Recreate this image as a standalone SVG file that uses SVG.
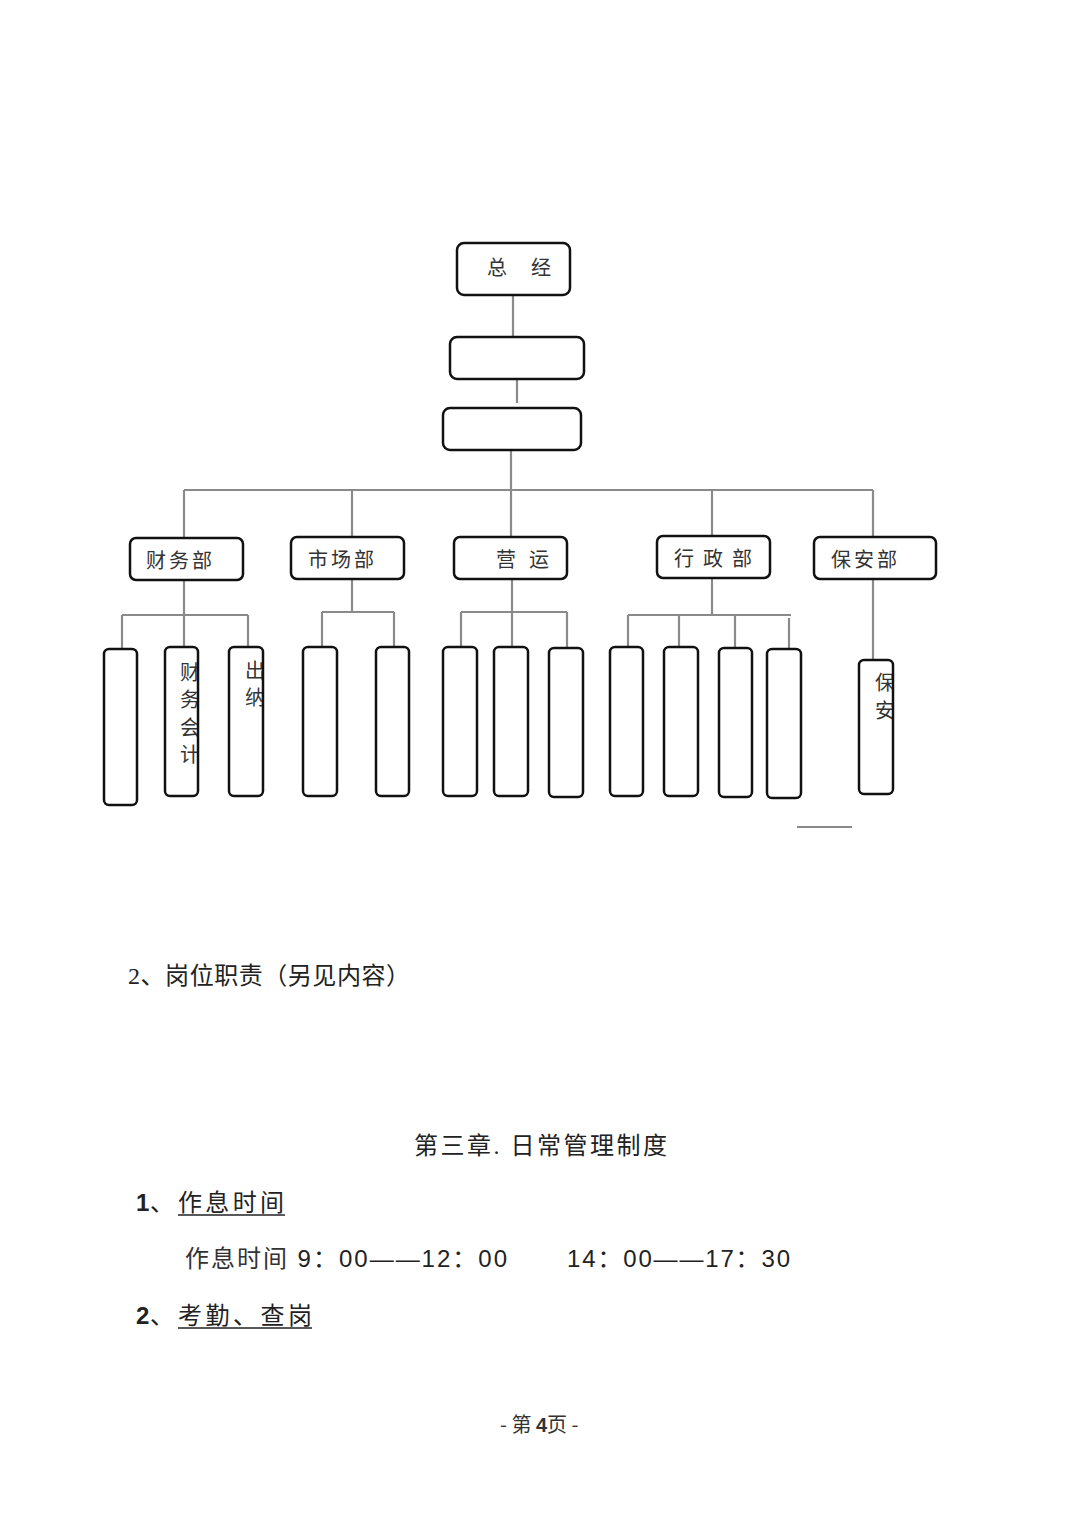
<svg xmlns="http://www.w3.org/2000/svg" width="1080" height="1528" viewBox="0 0 1080 1528">
<style>
.box{fill:#fff;stroke:#111;stroke-width:2.5}
.ln{stroke:#8a8a8a;stroke-width:2.2;fill:none}
.lbl{font-family:"Noto Sans CJK SC","Liberation Sans",sans-serif;font-size:20px;fill:#333}
.body{font-family:"Liberation Serif","Noto Sans CJK SC",serif;font-size:24px;fill:#222}
.num{font-family:"Liberation Sans","Noto Sans CJK SC",sans-serif;font-size:24px;fill:#222}
.ul{stroke:#222;stroke-width:1.5}
</style>
<defs>
<clipPath id="c1"><rect x="165" y="647" width="32" height="149"/></clipPath>
<clipPath id="c2"><rect x="229" y="647" width="33" height="149"/></clipPath>
<clipPath id="c3"><rect x="859" y="660" width="33" height="134"/></clipPath>
</defs>
<rect width="1080" height="1528" fill="#fff"/>

<g id="connectors">
<line class="ln" x1="513" y1="295" x2="513" y2="349"/>
<line class="ln" x1="517" y1="379" x2="517" y2="403"/>
<line class="ln" x1="511" y1="450" x2="511" y2="537"/>
<line class="ln" x1="184" y1="490" x2="873" y2="490"/>
<line class="ln" x1="184" y1="490" x2="184" y2="538"/>
<line class="ln" x1="352" y1="490" x2="352" y2="539"/>
<line class="ln" x1="712" y1="490" x2="712" y2="536"/>
<line class="ln" x1="873" y1="490" x2="873" y2="537"/>
<!-- 财务部 -->
<line class="ln" x1="184" y1="580" x2="184" y2="647"/>
<line class="ln" x1="122" y1="615" x2="248" y2="615"/>
<line class="ln" x1="122" y1="615" x2="122" y2="649"/>
<line class="ln" x1="248" y1="615" x2="248" y2="647"/>
<!-- 市场部 -->
<line class="ln" x1="352" y1="579" x2="352" y2="612"/>
<line class="ln" x1="322" y1="612" x2="394" y2="612"/>
<line class="ln" x1="322" y1="612" x2="322" y2="647"/>
<line class="ln" x1="394" y1="612" x2="394" y2="647"/>
<!-- 营运 -->
<line class="ln" x1="512" y1="579" x2="512" y2="647"/>
<line class="ln" x1="461" y1="612" x2="567" y2="612"/>
<line class="ln" x1="461" y1="612" x2="461" y2="647"/>
<line class="ln" x1="567" y1="612" x2="567" y2="648"/>
<!-- 行政部 -->
<line class="ln" x1="712" y1="578" x2="712" y2="615"/>
<line class="ln" x1="628" y1="615" x2="791" y2="615"/>
<line class="ln" x1="628" y1="615" x2="628" y2="647"/>
<line class="ln" x1="679" y1="615" x2="679" y2="647"/>
<line class="ln" x1="735" y1="615" x2="735" y2="648"/>
<line class="ln" x1="789" y1="618" x2="789" y2="652"/>
<!-- 保安部 -->
<line class="ln" x1="873" y1="577" x2="873" y2="660"/>
<line class="ln" x1="797" y1="827" x2="852" y2="827"/>
</g>

<g id="n-gm">
<rect class="box" x="457" y="243" width="113" height="52" rx="7"/>
<text class="lbl" x="487" y="275">总</text>
<text class="lbl" x="531" y="275">经</text>
</g>
<g id="n-2"><rect class="box" x="450" y="337" width="134" height="42" rx="7"/></g>
<g id="n-3"><rect class="box" x="443" y="408" width="138" height="42" rx="7"/></g>

<g id="n-finance">
<rect class="box" x="130" y="538" width="113" height="42" rx="6"/>
<text class="lbl" x="146" y="568" letter-spacing="3">财务部</text>
</g>
<g id="n-market">
<rect class="box" x="291" y="537" width="113" height="42" rx="6"/>
<text class="lbl" x="308" y="567" letter-spacing="3">市场部</text>
</g>
<g id="n-ops">
<rect class="box" x="454" y="537" width="113" height="42" rx="6"/>
<text class="lbl" x="496" y="567">营</text>
<text class="lbl" x="529" y="567">运</text>
</g>
<g id="n-admin">
<rect class="box" x="657" y="536" width="113" height="42" rx="6"/>
<text class="lbl" x="674" y="566">行</text>
<text class="lbl" x="703" y="566">政</text>
<text class="lbl" x="732" y="566">部</text>
</g>
<g id="n-security">
<rect class="box" x="814" y="537" width="122" height="42" rx="6"/>
<text class="lbl" x="831" y="567" letter-spacing="3">保安部</text>
</g>

<g id="n-f1"><rect class="box" x="104" y="649" width="33" height="156" rx="5"/></g>
<g id="n-f2">
<rect class="box" x="165" y="647" width="33" height="149" rx="5"/>
<g clip-path="url(#c1)">
<text class="lbl" x="180" y="680">财</text>
<text class="lbl" x="180" y="707">务</text>
<text class="lbl" x="180" y="735">会</text>
<text class="lbl" x="180" y="762">计</text>
</g>
</g>
<g id="n-f3">
<rect class="box" x="229" y="647" width="34" height="149" rx="5"/>
<g clip-path="url(#c2)">
<text class="lbl" x="245" y="678">出</text>
<text class="lbl" x="245" y="705">纳</text>
</g>
</g>
<g id="n-m1"><rect class="box" x="303" y="647" width="34" height="149" rx="5"/></g>
<g id="n-m2"><rect class="box" x="376" y="647" width="33" height="149" rx="5"/></g>
<g id="n-o1"><rect class="box" x="443" y="647" width="34" height="149" rx="5"/></g>
<g id="n-o2"><rect class="box" x="494" y="647" width="34" height="149" rx="5"/></g>
<g id="n-o3"><rect class="box" x="549" y="648" width="34" height="149" rx="5"/></g>
<g id="n-a1"><rect class="box" x="610" y="647" width="33" height="149" rx="5"/></g>
<g id="n-a2"><rect class="box" x="664" y="647" width="34" height="149" rx="5"/></g>
<g id="n-a3"><rect class="box" x="719" y="648" width="33" height="149" rx="5"/></g>
<g id="n-a4"><rect class="box" x="767" y="649" width="34" height="149" rx="5"/></g>
<g id="n-s1">
<rect class="box" x="859" y="660" width="34" height="134" rx="5"/>
<g clip-path="url(#c3)">
<text class="lbl" x="875" y="690">保</text>
<text class="lbl" x="875" y="718">安</text>
</g>
</g>

<g id="text">
<text class="body" x="128" y="984" font-size="25" textLength="282" lengthAdjust="spacing">2、岗位职责（另见内容）</text>
<text class="body" x="414" y="1154" textLength="253" lengthAdjust="spacing">第三章. 日常管理制度</text>
<text class="num" x="136" y="1211" font-weight="bold">1</text>
<text class="body" x="150" y="1211">、</text>
<text class="body" x="178" y="1211" textLength="106" lengthAdjust="spacing">作息时间</text>
<line class="ul" x1="178" y1="1215" x2="285" y2="1215"/>
<text class="num" x="185" y="1267" textLength="322" lengthAdjust="spacing"><tspan font-family="Noto Sans CJK SC, sans-serif" fill="#333">作息时间</tspan> 9：00——12：00</text>
<text class="num" x="567" y="1267" textLength="223" lengthAdjust="spacing">14：00——17：30</text>
<text class="num" x="136" y="1324" font-weight="bold">2</text>
<text class="body" x="150" y="1324">、</text>
<text class="body" x="178" y="1324" textLength="134" lengthAdjust="spacing">考勤、查岗</text>
<line class="ul" x1="178" y1="1328" x2="312" y2="1328"/>
<text class="lbl" x="500" y="1432" font-size="15" fill="#222">-  第 <tspan font-family="Liberation Sans, sans-serif" font-weight="bold">4</tspan>页  -</text>
</g>
</svg>
